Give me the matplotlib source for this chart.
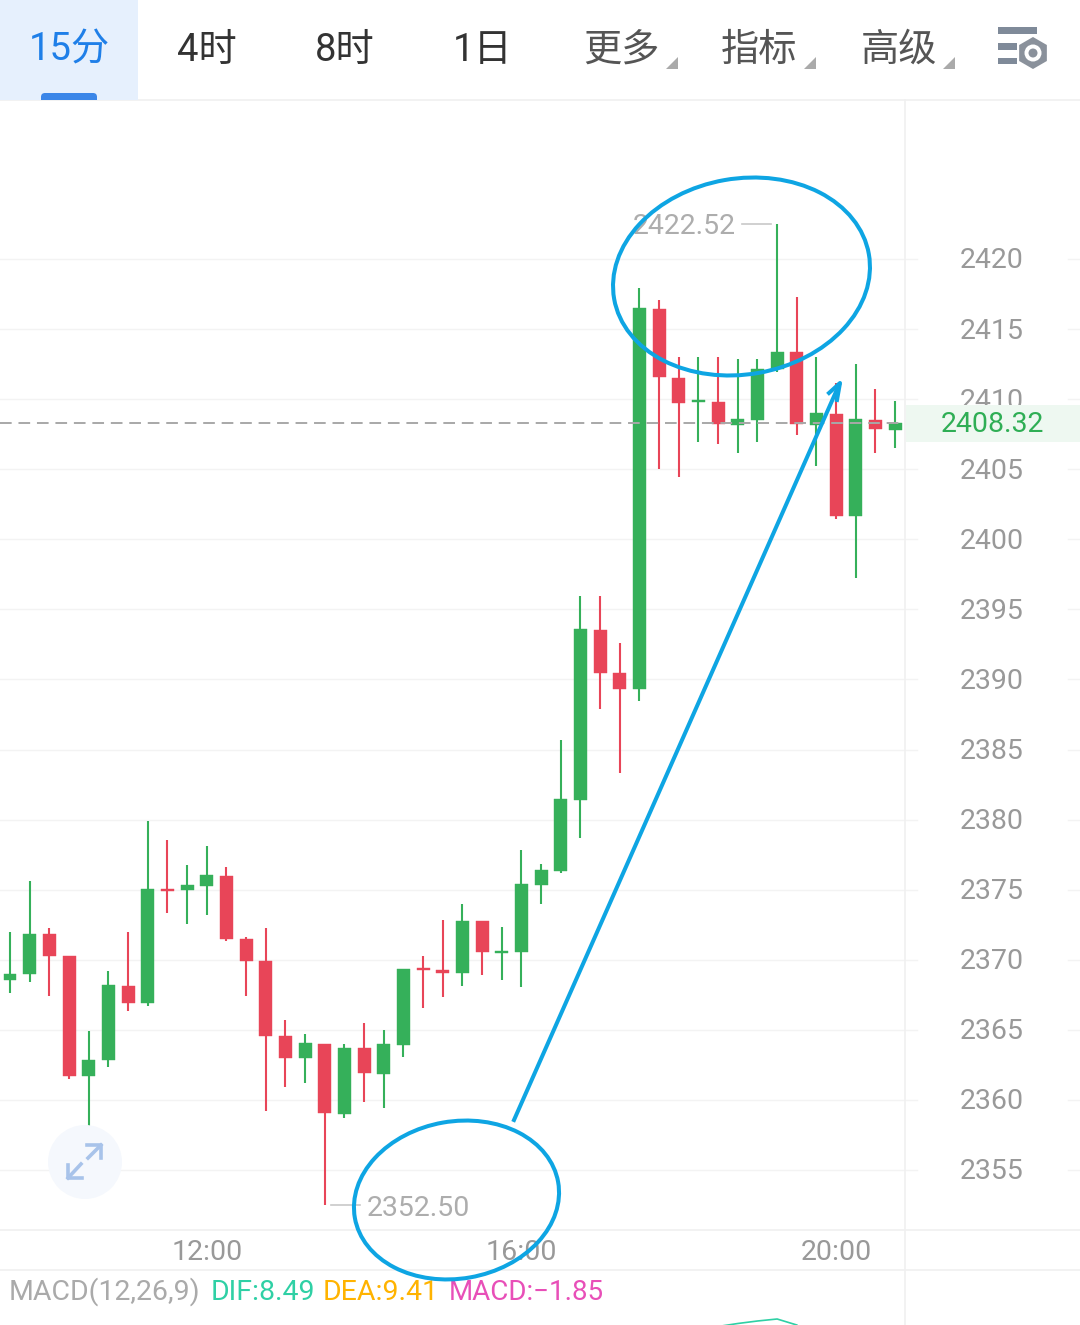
import matplotlib
matplotlib.use('Agg')
from matplotlib import pyplot as plt
from matplotlib.patches import Ellipse, Circle, Rectangle, Polygon, FancyBboxPatch, RegularPolygon
from matplotlib.transforms import blended_transform_factory

# Candle values (15 minute bars)
open_price = [2368.55, 2368.98, 2371.84, 2370.27, 2361.71, 2362.85, 2368.13, 2366.91, 2375.05, 2374.98,
              2375.26, 2375.98, 2371.48, 2369.91, 2364.56, 2362.99, 2363.99, 2358.99, 2363.70, 2361.85,
              2363.92, 2369.41, 2369.27, 2369.05, 2372.77, 2370.48, 2370.55, 2375.33, 2376.33, 2381.40,
              2393.53, 2390.46, 2389.32, 2416.43, 2411.51, 2409.80, 2409.80, 2408.16, 2408.51, 2412.15,
              2413.36, 2408.16, 2408.94, 2401.66, 2408.51, 2407.80]
close_price = [2368.98, 2371.84, 2370.27, 2361.71, 2362.85, 2368.20, 2366.91, 2375.05, 2374.91, 2375.33,
               2376.05, 2371.48, 2369.91, 2364.56, 2362.99, 2364.06, 2359.07, 2363.70, 2361.92, 2363.99,
               2369.34, 2369.27, 2369.05, 2372.77, 2370.55, 2370.63, 2375.41, 2376.40, 2381.47, 2393.60,
               2390.46, 2389.32, 2416.50, 2411.58, 2409.73, 2409.94, 2408.23, 2408.58, 2412.15, 2413.36,
               2408.23, 2409.01, 2401.66, 2408.58, 2407.87, 2408.32]
high_price = [2371.98, 2375.62, 2372.27, 2370.27, 2364.92, 2369.20, 2371.98, 2379.90, 2378.54, 2376.76,
              2378.12, 2376.62, 2371.62, 2372.27, 2365.70, 2364.70, 2363.99, 2363.99, 2365.49, 2364.99,
              2369.34, 2370.27, 2372.84, 2373.98, 2372.77, 2372.34, 2377.83, 2376.83, 2385.68, 2395.95,
              2395.95, 2392.60, 2417.93, 2417.07, 2413.01, 2413.01, 2413.01, 2412.86, 2412.86, 2422.52,
              2417.29, 2413.01, 2411.15, 2412.51, 2410.72, 2409.87]
low_price = [2367.63, 2368.41, 2367.41, 2361.49, 2358.14, 2362.35, 2366.34, 2366.70, 2373.34, 2372.55,
             2373.19, 2371.34, 2367.41, 2359.21, 2360.92, 2361.21, 2352.50, 2358.71, 2359.85, 2359.42,
             2363.06, 2366.56, 2367.34, 2368.13, 2368.91, 2368.55, 2368.06, 2373.98, 2376.19, 2378.69,
             2387.89, 2383.33, 2388.46, 2405.02, 2404.45, 2406.94, 2406.80, 2406.16, 2406.94, 2411.94,
             2407.44, 2405.23, 2401.45, 2397.24, 2406.16, 2406.51]

price_ticks = [2420, 2415, 2410, 2405, 2400, 2395, 2390, 2385, 2380, 2375, 2370, 2365, 2360, 2355]
time_ticks = [10, 26, 42]
time_labels = ['12:00', '16:00', '20:00']
last_price = 2408.32
max_label = '2422.52'
min_label = '2352.50'

dif_index = [36, 37, 38, 39, 40]
dif_values = [12.5, 13.1, 13.6, 14.0, 12.8]

tab_labels = ['15分', '4时', '8时', '1日', '更多', '指标', '高级']
macd_labels = ['MACD(12,26,9)', 'DIF:8.49', 'DEA:9.41', 'MACD:\u22121.85']

GREEN = '#35b05a'
RED = '#e84558'
BLUE = '#0ea5e3'
GRID = '#f3f3f3'
plt.rcParams['font.family'] = ['Roboto', 'Noto Sans CJK SC', 'DejaVu Sans']

fig = plt.figure(figsize=(10.8, 13.25), dpi=100)
W, H = 1080, 1325

# Price chart: x is bar number, y is price
ax = fig.add_axes([0, (H - 1230) / H, 1, 1130 / H])
ax.set_xlim((0 - 10) / 19.67, (1080 - 10) / 19.67)
ax.set_ylim(2420 - (1230 - 259) / 14.015, 2420 + (259 - 100) / 14.015)
ax.axis('off')

# Screen overlay in pixels for the app chrome
ui = fig.add_axes([0, 0, 1, 1], zorder=5)
ui.set_xlim(0, W)
ui.set_ylim(H, 0)
ui.axis('off')
ui.patch.set_alpha(0)

label_trans = blended_transform_factory(ui.transData, ax.transData)
time_trans = blended_transform_factory(ax.transData, ui.transData)

# Grid stops before the price labels and picks up after them
for p in price_ticks:
    ax.plot([0, 917], [p, p], transform=label_trans, color=GRID, lw=1, zorder=1)
    ax.plot([1068, 1080], [p, p], transform=label_trans, color=GRID, lw=1, zorder=1)
    ax.annotate(str(p), xy=(992, p), xycoords=label_trans, xytext=(0, -2), textcoords='offset pixels',
                ha='center', va='center', fontsize=20.5, color='#999999', zorder=2)

# Candles
for i in range(len(open_price)):
    colour = GREEN if close_price[i] >= open_price[i] else RED
    ax.vlines(i, low_price[i], high_price[i], color=colour, lw=1.5, zorder=3)
    bottom = min(open_price[i], close_price[i])
    ax.bar(i, abs(close_price[i] - open_price[i]), width=0.66, bottom=bottom, color=colour,
           edgecolor=colour, lw=0.3, zorder=4)

ax.axhline(last_price, xmax=905 / W, color='#a8a8a8', lw=1.4, dashes=(6, 3.5), zorder=5)

# Frame lines
for y in [100, 1230, 1270]:
    ui.plot([0, W], [y, y], color='#f0f0f0', lw=1.2, zorder=1)
ui.plot([905, 905], [100, H], color='#f0f0f0', lw=1.2, zorder=1)

# Current price tag
ui.add_patch(Rectangle((906, 405), 174, 37, color='#eef8f1', lw=0, zorder=2))
ui.text(992, 425, f'{last_price:.2f}', ha='center', va='center', fontsize=20.5, color='#2fae55', zorder=3)

# Max and min markers
ui.text(684, 227, max_label, ha='center', va='center', fontsize=20.5, color='#adadad', zorder=3)
ui.plot([742, 771], [224, 224], color='#c8c8c8', lw=1.2, zorder=3)
ui.text(418, 1208, min_label, ha='center', va='center', fontsize=20.5, color='#adadad', zorder=3)
ui.plot([331, 360], [1205, 1205], color='#c8c8c8', lw=1.2, zorder=3)

# Time axis
for t, lab in zip(time_ticks, time_labels):
    ui.text(t, 1253, lab, transform=time_trans, ha='center', va='center', fontsize=20.5, color='#999999', zorder=3)

# MACD header and the bit of DIF line that shows
macd_x = [9, 211, 323, 449]
macd_sizes = [20.5, 20.5, 20.5, 20]
macd_colours = ['#aaaaaa', '#2fd0a5', '#ffb300', '#e84fb8']
for x, lab, size, colour in zip(macd_x, macd_labels, macd_sizes, macd_colours):
    ui.text(x, 1292, lab, ha='left', va='center', fontsize=size, color=colour, zorder=3)

macd_ax = fig.add_axes([0, 0, 1, 55 / H])
macd_ax.set_xlim(ax.get_xlim())
macd_ax.set_ylim(12.8, 23.8)
macd_ax.axis('off')
macd_ax.plot(dif_index, dif_values, color='#2fd0a5', lw=1.2)

# Tab bar
ui.add_patch(Rectangle((0, 0), 138, 100, color='#e6f0fd', lw=0, zorder=1))
marker = FancyBboxPatch((45, 97), 48, 12, boxstyle='round,pad=4', color='#3b86e8', lw=0, zorder=2)
ui.add_patch(marker)
marker.set_clip_path(Rectangle((0, 0), W, 100, transform=ui.transData))
tab_x = [69, 207, 345, 483, 621, 759, 899]
tab_colours = ['#1f7fe8', '#333333', '#333333', '#333333', '#555555', '#555555', '#555555']
for x, lab, colour in zip(tab_x, tab_labels, tab_colours):
    ui.text(x, 50, lab, ha='center', va='center', fontsize=27.5, color=colour, zorder=3)
for x in [666, 804, 943]:
    ui.add_patch(Polygon([(x + 12, 57), (x + 12, 69), (x, 69)], color='#aaaaaa', lw=0, zorder=3))

# Settings icon
for x0, x1, y0, y1 in [(998, 1037, 27, 34), (998, 1017, 43, 50), (998, 1017, 58, 64)]:
    ui.add_patch(Rectangle((x0, y0), x1 - x0, y1 - y0, color='#7f8a99', lw=0, zorder=3))
ui.add_patch(RegularPolygon((1033, 53), 6, radius=16, color='#8a919b', lw=0, zorder=3))
ui.add_patch(Circle((1033, 53), 8.5, color='white', lw=0, zorder=4))
ui.add_patch(Circle((1033, 53), 4.5, color='#8a919b', lw=0, zorder=5))

# Expand button
ui.add_patch(Circle((85, 1162), 37, color='#f5f8fd', lw=0, zorder=6))
for seg in [[(88, 1158), (101, 1145)], [(87, 1145), (101, 1145), (101, 1158)],
            [(81, 1164), (68, 1178)], [(68, 1165), (68, 1178), (82, 1178)]]:
    ui.plot(*zip(*seg), color='#a8c3ea', lw=2.6, zorder=7)

# Hand drawn annotations
ui.add_patch(Ellipse((741.5, 276.5), 258.6, 195.8, angle=-10, fill=False, edgecolor=BLUE, lw=2.9, zorder=8))
ui.add_patch(Ellipse((456.5, 1200), 206.4, 157.2, angle=-10, fill=False, edgecolor=BLUE, lw=2.9, zorder=8))
ui.plot([514, 839], [1120, 385], color=BLUE, lw=2.9, zorder=8)
ui.plot([829, 840, 837], [393, 383, 400], color=BLUE, lw=2.9, zorder=8)

plt.savefig('out.png', dpi=100)
plt.close()
